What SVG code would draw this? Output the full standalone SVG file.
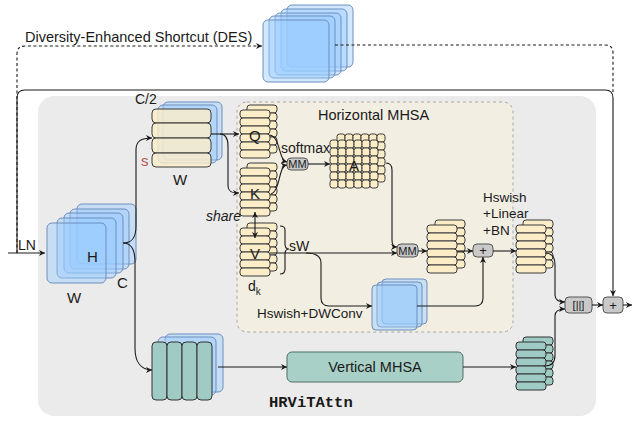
<svg xmlns="http://www.w3.org/2000/svg" xmlns:xlink="http://www.w3.org/1999/xlink" width="639" height="424" viewBox="0 0 639 424">
<style>
text{font-family:"Liberation Sans",Arial,sans-serif;fill:#1a1a1a}
text.mono{font-family:"Liberation Mono","Courier New",monospace;font-weight:bold}
.blue{fill:#99ccff;fill-opacity:.45;stroke:#6c8ebf;stroke-width:1}
.row{fill:#fbedc8;stroke:#3a3a3a;stroke-width:1}
.trow{fill:#9fcbc4;stroke:#333;stroke-width:1}
.cell{fill:#fbedc8;stroke:#3a3a3a;stroke-width:1}
.op{fill:#c9c9c9;stroke:#555;stroke-width:1}
.ln{fill:none;stroke:#1a1a1a;stroke-width:1.1}
.arr{marker-end:url(#ah)}
.dash{stroke-dasharray:3,2.5}
.lbl{font-size:14px}
.small{font-size:11px}
</style>
<defs>
<marker id="ah" viewBox="0 0 10 10" refX="10" refY="5" markerWidth="6" markerHeight="6" markerUnits="userSpaceOnUse" orient="auto"><path d="M0,0 L10,5 L0,10 L3,5 z" fill="#1a1a1a"/></marker>
<marker id="as" viewBox="0 0 10 10" refX="0" refY="5" markerWidth="6" markerHeight="6" markerUnits="userSpaceOnUse" orient="auto"><path d="M10,0 L0,5 L10,10 L7,5 z" fill="#1a1a1a"/></marker>
<g id="rows6">
<rect class="row" x="0" y="0" width="30" height="8" rx="3"/>
<rect class="row" x="0" y="8" width="30" height="8" rx="3"/>
<rect class="row" x="0" y="16" width="30" height="8" rx="3"/>
<rect class="row" x="0" y="24" width="30" height="8" rx="3"/>
<rect class="row" x="0" y="32" width="30" height="8" rx="3"/>
<rect class="row" x="0" y="40" width="30" height="8" rx="3"/>
</g>
<g id="trows6">
<rect class="trow" x="0" y="0" width="30" height="8" rx="3"/>
<rect class="trow" x="0" y="8" width="30" height="8" rx="3"/>
<rect class="trow" x="0" y="16" width="30" height="8" rx="3"/>
<rect class="trow" x="0" y="24" width="30" height="8" rx="3"/>
<rect class="trow" x="0" y="32" width="30" height="8" rx="3"/>
<rect class="trow" x="0" y="40" width="30" height="8" rx="3"/>
</g>
<g id="gridrow">
<rect class="cell" x="0" y="0" width="8" height="8" rx="2.5"/>
<rect class="cell" x="8" y="0" width="8" height="8" rx="2.5"/>
<rect class="cell" x="16" y="0" width="8" height="8" rx="2.5"/>
<rect class="cell" x="24" y="0" width="8" height="8" rx="2.5"/>
<rect class="cell" x="32" y="0" width="8" height="8" rx="2.5"/>
<rect class="cell" x="40" y="0" width="8" height="8" rx="2.5"/>
</g>
<g id="grid">
<use xlink:href="#gridrow" y="0"/>
<use xlink:href="#gridrow" y="8"/>
<use xlink:href="#gridrow" y="16"/>
<use xlink:href="#gridrow" y="24"/>
<use xlink:href="#gridrow" y="32"/>
<use xlink:href="#gridrow" y="40"/>
</g>
</defs>

<rect id="background" x="38" y="96" width="558" height="320" rx="16" fill="#ebebeb"/>

<g id="horizontal-mhsa">
<rect x="237" y="102" width="276" height="230" rx="10" fill="#f2eee2" stroke="#a8a8a8" stroke-dasharray="3,3"/>
<text x="318" y="120" font-size="14.5px">Horizontal MHSA</text>
</g>

<g id="des-stack">
<rect class="blue" x="287" y="5" width="66" height="62" rx="5"/>
<rect class="blue" x="281" y="9" width="66" height="62" rx="5"/>
<rect class="blue" x="275" y="13" width="66" height="62" rx="5"/>
<rect class="blue" x="269" y="16" width="66" height="62" rx="5"/>
<rect class="blue" x="263" y="20" width="66" height="62" rx="5"/>
</g>
<text id="des-label" x="25" y="42" font-size="14.5px">Diversity-Enhanced Shortcut (DES)</text>

<g id="input">
<text x="18" y="250" class="lbl">LN</text>
</g>

<g id="h-stack">
<rect class="blue" x="77" y="204" width="59" height="60" rx="5"/>
<rect class="blue" x="70" y="209" width="59" height="60" rx="5"/>
<rect class="blue" x="64" y="213" width="59" height="60" rx="5"/>
<rect class="blue" x="57" y="218" width="59" height="60" rx="5"/>
<rect class="blue" x="47" y="223" width="59" height="60" rx="5"/>
<text x="87" y="262" font-size="15px">H</text>
<text x="67" y="303" font-size="15px">W</text>
<text x="117" y="288" font-size="15px">C</text>
</g>

<g id="c2-stack">
<rect class="blue" x="163" y="102" width="59" height="58" rx="5"/>
<rect class="blue" x="158" y="105" width="59" height="58" rx="5"/>
<rect class="row" x="152" y="109" width="59" height="14" rx="4" fill-opacity=".8"/>
<rect class="row" x="152" y="123" width="59" height="15" rx="4" fill-opacity=".8"/>
<rect class="row" x="152" y="138" width="59" height="15" rx="4" fill-opacity=".8"/>
<rect class="row" x="152" y="153" width="59" height="14" rx="4" fill-opacity=".8" stroke="#b85450" stroke-width="1.5"/>
<text x="135" y="104" class="lbl">C/2</text>
<text x="141" y="166" font-size="15px" style="fill:#b85450">s</text>
<text x="173" y="185" font-size="15px">W</text>
</g>

<g id="q-stack">
<use xlink:href="#rows6" x="247" y="105"/>
<use xlink:href="#rows6" x="240" y="110"/>
<text x="249" y="141" font-size="15px">Q</text>
</g>
<g id="k-stack">
<use xlink:href="#rows6" x="247" y="163"/>
<use xlink:href="#rows6" x="240" y="168"/>
<text x="250" y="199" font-size="15px">K</text>
</g>
<g id="v-stack">
<use xlink:href="#rows6" x="247" y="223"/>
<use xlink:href="#rows6" x="240" y="228"/>
<text x="250" y="259" font-size="15px">V</text>
<path class="ln" d="M280 226 Q285 226 285 230 V244 Q285 249 289 249 Q285 249 285 254 V269 Q285 274 280 274"/>
<text x="289" y="251" class="lbl">sW</text>
<text x="248" y="291" class="lbl">d<tspan font-size="10px" dy="4">k</tspan></text>
</g>
<text id="share" x="206" y="221" class="lbl" font-style="italic">share</text>

<g id="mm1">
<rect class="op" x="287" y="158" width="21" height="12" rx="4"/>
<text x="297.5" y="168" class="small" text-anchor="middle">MM</text>
</g>
<text id="softmax" x="281" y="153" class="lbl">softmax</text>

<g id="a-grid">
<use xlink:href="#grid" x="337" y="134"/>
<use xlink:href="#grid" x="330" y="140"/>
<text x="349" y="171" font-size="15px">A</text>
</g>

<g id="mm2">
<rect class="op" x="397" y="244" width="21" height="13" rx="4"/>
<text x="407.5" y="254.5" class="small" text-anchor="middle">MM</text>
</g>

<g id="dwconv-stack">
<rect class="blue" x="382" y="279" width="45" height="45" rx="4"/>
<rect class="blue" x="377" y="282" width="45" height="45" rx="4"/>
<rect class="blue" x="372" y="285" width="45" height="45" rx="4"/>
<text x="257" y="318" font-size="13.5px">Hswish+DWConv</text>
</g>

<g id="out-stack1">
<use xlink:href="#rows6" x="435" y="220"/>
<use xlink:href="#rows6" x="427" y="225"/>
</g>

<g id="add1">
<rect class="op" x="473" y="244" width="20" height="13" rx="4"/>
<text x="483" y="255" font-size="13px" text-anchor="middle">+</text>
</g>

<g id="out-stack2">
<use xlink:href="#rows6" x="523" y="220"/>
<use xlink:href="#rows6" x="516" y="225"/>
</g>
<g id="proj-label">
<text x="483" y="202" font-size="13.5px">Hswish</text>
<text x="483" y="218" font-size="13.5px">+Linear</text>
<text x="483" y="235" font-size="13.5px">+BN</text>
</g>

<g id="concat">
<rect class="op" x="565" y="297" width="27" height="16" rx="4"/>
<text x="578.5" y="309" class="small" text-anchor="middle">[||]</text>
</g>
<g id="add2">
<rect class="op" x="603" y="297" width="20" height="16" rx="4"/>
<text x="613" y="310" font-size="13px" text-anchor="middle">+</text>
</g>

<g id="v-input-stack">
<rect class="blue" x="165" y="334" width="58" height="58" rx="5"/>
<rect class="blue" x="158" y="337" width="58" height="58" rx="5"/>
<rect class="trow" x="152" y="342" width="15" height="58" rx="4"/>
<rect class="trow" x="167" y="342" width="15" height="58" rx="4"/>
<rect class="trow" x="182" y="342" width="15" height="58" rx="4"/>
<rect class="trow" x="197" y="342" width="15" height="58" rx="4"/>
</g>

<g id="vertical-mhsa">
<rect x="287" y="352" width="176" height="30" rx="5" fill="#a9d0c6" stroke="#4d6e66"/>
<text x="375" y="372" font-size="14.5px" text-anchor="middle">Vertical MHSA</text>
</g>

<g id="v-out-stack">
<use xlink:href="#trows6" x="523" y="337"/>
<use xlink:href="#trows6" x="516" y="342"/>
</g>

<text id="title" class="mono" x="269" y="407" font-size="15.5px">HRViTAttn</text>

<g id="connectors">
<path class="ln arr" d="M8 253 H45"/>
<path class="ln arr" d="M17 253 V98 Q17 90 25 90 H605 Q613 90 613 98 V296"/>
<path class="ln dash arr" d="M17 253 V54 Q17 46 25 46 H262"/>
<path class="ln dash" d="M335 45 H605 Q613 45 613 53 V92"/>
<path class="ln arr" d="M123 243 C132 243 136 238 136 226 V150 C136 141 141 138 152 138"/>
<path class="ln arr" d="M123 243 C132 243 135 250 135 262 V348 C135 362 141 370 152 370"/>
<path class="ln arr" d="M211 134 H239"/>
<path class="ln arr" d="M220 134 C226 134 228 138 228 146 V186 C228 191 231 193 239 193"/>
<path class="ln" d="M255 212 V238" style="marker-start:url(#as);marker-end:url(#ah)"/>
<path class="ln arr" d="M270 135 C281 138 278 160 287 162"/>
<path class="ln arr" d="M271 194 C281 190 278 166 287 165"/>
<path class="ln arr" d="M308 164 H330"/>
<path class="ln arr" d="M386 163 Q392 163 392 170 V240 Q392 247 397 247"/>
<path class="ln arr" d="M270 253 H397"/>
<path class="ln arr" d="M306 253 Q321 253 321 263 V298 Q321 306 329 306 H372"/>
<path class="ln arr" d="M418 251 H427"/>
<path class="ln arr" d="M457 251 H473"/>
<path class="ln arr" d="M417 306 H475 Q483 306 483 298 V257"/>
<path class="ln arr" d="M493 251 H516"/>
<path class="ln arr" d="M545 253 Q555 253 555 265 V295 Q555 302 565 302"/>
<path class="ln arr" d="M545 366 Q555 366 555 355 V316 Q555 309 565 309"/>
<path class="ln arr" d="M592 305 H603"/>
<path class="ln arr" d="M623 305 H632"/>
<path class="ln arr" d="M218 367 H287"/>
<path class="ln arr" d="M463 367 H516"/>
</g>
</svg>
